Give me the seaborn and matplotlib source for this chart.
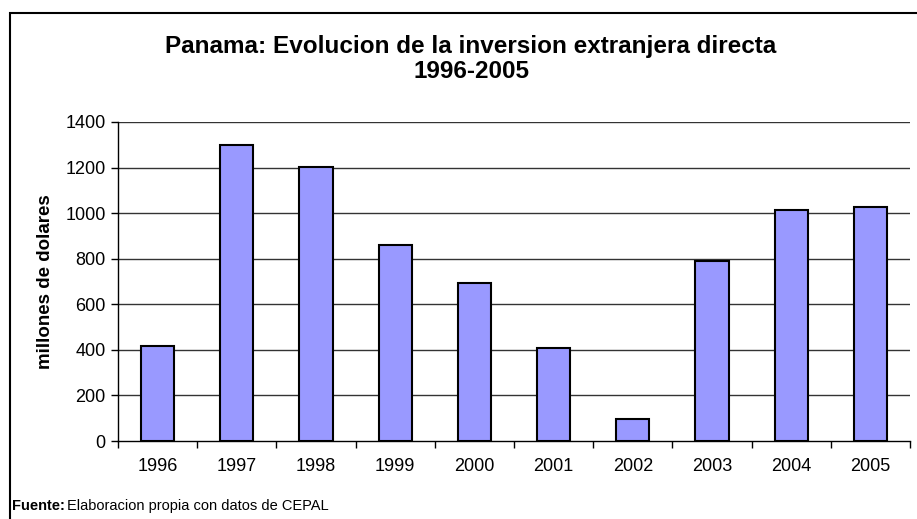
import matplotlib

matplotlib.use("Agg")
import matplotlib.pyplot as plt
import matplotlib.patches as mpatches
import numpy as np
import pandas as pd
import seaborn as sns

years = ["1996", "1997", "1998", "1999", "2000", "2001", "2002", "2003", "2004", "2005"]
ied = [415, 1300, 1202, 860, 695, 408, 98, 792, 1012, 1027]
yticks = [0, 200, 400, 600, 800, 1000, 1200, 1400]

sns.set_theme(style="white")
plt.rcParams["font.family"] = ["Liberation Sans", "DejaVu Sans"]

df = pd.DataFrame({"anio": years, "ied": ied})

fig = plt.figure(figsize=(9.17, 5.19), dpi=100)
ax = fig.add_axes([118 / 917, 1 - 441 / 519, (910 - 118) / 917, (441 - 122) / 519])

ax.set_axisbelow(True)
for v in yticks[1:]:
    ax.axhline(v, color="#333333", lw=1, zorder=0)

sns.barplot(data=df, x="anio", y="ied", color="#9999FF", edgecolor="black",
            linewidth=1.5, width=0.42, saturation=1, ax=ax)

ax.set_xlim(-0.5, len(years) - 0.5)
ax.set_ylim(0, 1400)
ax.set_yticks(yticks)
ax.tick_params(axis="y", which="major", left=True, length=5, width=1, color="black",
               labelsize=13, pad=4, labelcolor="black")
ax.set_xticks(np.arange(len(years)))
ax.set_xticklabels(years)
ax.set_xticks(np.arange(len(years) + 1) - 0.5, minor=True)
ax.tick_params(axis="x", which="major", length=0, labelsize=13, pad=12, labelcolor="black")
ax.tick_params(axis="x", which="minor", bottom=True, length=5, width=1, color="black")

for s in ["top", "right"]:
    ax.spines[s].set_visible(False)
for s in ["left", "bottom"]:
    ax.spines[s].set_color("black")
    ax.spines[s].set_linewidth(1)

ax.set_xlabel("")
ax.set_ylabel("millones de dolares", fontsize=13.5, fontweight="bold", labelpad=8,
              color="black")

fig.text(471 / 917, 1 - 46 / 519, "Panama: Evolucion de la inversion extranjera directa",
         ha="center", va="center", fontsize=17.5, fontweight="bold", color="black")
fig.text(471 / 917, 1 - 71 / 519, "1996-2005",
         ha="center", va="center", fontsize=17.5, fontweight="bold", color="black")

fig.text(12 / 917, 1 - 506 / 519, "Fuente:", ha="left", va="center",
         fontsize=10.5, fontweight="bold", color="black")
fig.text(67 / 917, 1 - 506 / 519, "Elaboracion propia con datos de CEPAL",
         ha="left", va="center", fontsize=10.5, color="black")

fig.patches.append(mpatches.Rectangle((10 / 917, -0.1), 1.2, 0.975 + 0.1,
                                      transform=fig.transFigure, fill=False,
                                      edgecolor="black", lw=1.5))

fig.savefig("out.png", dpi=100)
